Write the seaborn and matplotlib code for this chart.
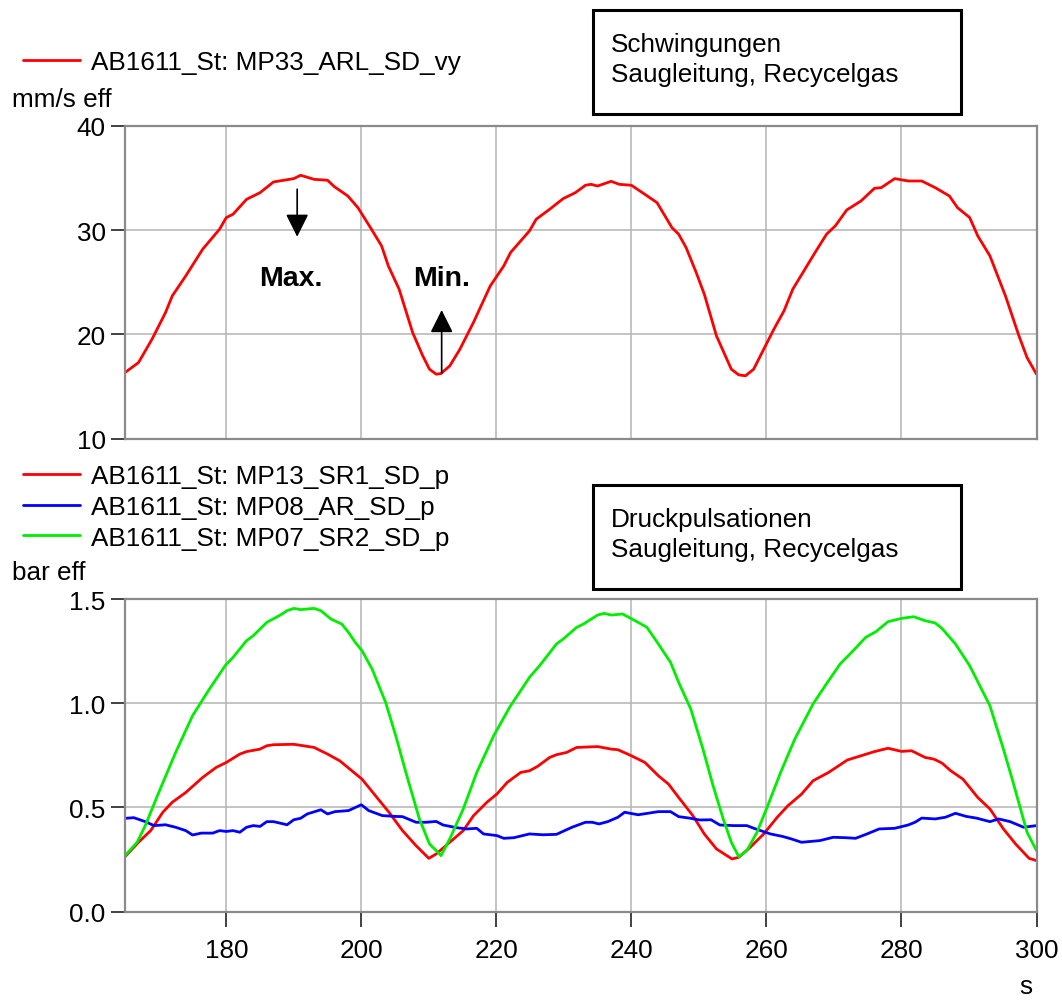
import matplotlib
matplotlib.use("Agg")
import matplotlib.pyplot as plt
import seaborn as sns
from matplotlib.patches import Rectangle

sns.set_theme(style="white")
plt.rcParams['font.family'] = ['Liberation Sans', 'DejaVu Sans']
plt.rcParams['text.color'] = 'black'
plt.rcParams['xtick.color'] = 'black'
plt.rcParams['ytick.color'] = 'black'

# --- Schwingungen (oben) ---
vy_t = [165.0, 167.0, 169.0, 171.0, 172.0, 174.0, 176.5, 179.0, 180.0, 181.0, 183.0, 185.0,
        187.0, 190.0, 191.0, 193.0, 195.0, 196.0, 198.0, 199.5, 201.5, 203.0, 204.0, 205.6,
        207.6, 209.1, 210.1, 211.1, 211.8, 213.1, 214.6, 216.6, 219.1, 221.1, 222.1, 224.9,
        225.9, 227.9, 229.9, 231.7, 233.2, 234.0, 235.0, 237.0, 238.2, 240.0, 242.0, 243.8,
        246.0, 247.0, 248.1, 249.6, 250.8, 252.6, 254.8, 255.9, 256.9, 258.1, 259.6, 261.1,
        262.6, 263.9, 265.7, 267.2, 268.9, 270.2, 271.9, 274.0, 276.0, 277.0, 279.0, 281.0,
        283.0, 285.0, 287.1, 288.3, 290.1, 291.3, 293.1, 295.4, 297.4, 298.6, 300.0]
vy_v = [16.33, 17.29, 19.53, 22.09, 23.69, 25.61, 28.17, 30.09, 31.21, 31.53, 32.96, 33.60,
        34.63, 34.95, 35.27, 34.88, 34.79, 34.18, 33.28, 32.16, 30.09, 28.49, 26.57, 24.33,
        20.17, 17.93, 16.65, 16.17, 16.24, 16.97, 18.57, 21.13, 24.65, 26.57, 27.85, 29.93,
        31.05, 32.01, 33.03, 33.60, 34.31, 34.40, 34.24, 34.69, 34.40, 34.31, 33.44, 32.64,
        30.25, 29.61, 28.33, 25.93, 23.85, 19.85, 16.65, 16.11, 16.02, 16.65, 18.57, 20.49,
        22.25, 24.33, 26.25, 27.85, 29.61, 30.41, 31.94, 32.80, 34.02, 34.08, 34.95, 34.72,
        34.72, 34.08, 33.28, 32.16, 31.21, 29.45, 27.53, 23.69, 19.85, 17.77, 16.17]

# --- Druckpulsationen (unten) ---
sr1_t = [165.0, 167.0, 168.8, 170.6, 172.0, 174.0, 176.5, 178.5, 180.0, 182.0, 183.0, 185.0,
         186.0, 187.0, 190.0, 193.0, 195.0, 196.8, 198.6, 200.1, 202.1, 204.1, 206.1, 208.1,
         210.0, 211.1, 213.1, 215.1, 216.6, 218.6, 220.1, 221.6, 223.6, 224.9, 226.1, 227.9,
         228.9, 230.4, 231.9, 235.0, 237.0, 238.0, 240.0, 242.0, 244.0, 245.5, 247.0, 249.1,
         250.8, 252.6, 254.9, 255.9, 257.6, 259.6, 261.6, 263.2, 265.2, 266.9, 269.2, 272.0,
         274.0, 276.0, 278.0, 280.0, 281.5, 283.5, 284.8, 286.0, 287.3, 289.1, 291.3, 293.1,
         295.1, 296.9, 298.9, 300.0]
sr1_v = [0.264, 0.333, 0.389, 0.477, 0.525, 0.572, 0.644, 0.692, 0.716, 0.756, 0.768, 0.780,
         0.796, 0.801, 0.803, 0.788, 0.756, 0.724, 0.676, 0.636, 0.556, 0.477, 0.389, 0.317,
         0.256, 0.277, 0.333, 0.389, 0.460, 0.525, 0.565, 0.620, 0.668, 0.676, 0.697, 0.740,
         0.753, 0.764, 0.788, 0.792, 0.780, 0.777, 0.748, 0.716, 0.652, 0.612, 0.548, 0.461,
         0.373, 0.301, 0.253, 0.261, 0.309, 0.373, 0.453, 0.509, 0.564, 0.628, 0.668, 0.728,
         0.748, 0.768, 0.784, 0.769, 0.772, 0.740, 0.732, 0.713, 0.676, 0.636, 0.548, 0.493,
         0.397, 0.325, 0.256, 0.245]

ar_t = [165.0, 166.3, 168.0, 169.3, 171.0, 172.5, 174.0, 175.0, 176.3, 178.0, 179.0, 180.0,
        181.0, 182.0, 183.0, 184.0, 185.0, 186.0, 187.0, 189.0, 190.0, 191.0, 192.0, 194.0,
        195.0, 196.1, 198.1, 200.0, 201.1, 203.1, 205.1, 206.1, 208.1, 209.6, 211.1, 212.1,
        214.1, 215.6, 217.1, 218.1, 220.1, 221.1, 222.6, 224.9, 226.9, 228.9, 231.2, 233.2,
        234.2, 235.2, 236.5, 238.0, 239.0, 241.0, 244.0, 245.8, 247.0, 248.6, 250.1, 251.8,
        253.1, 255.1, 257.1, 258.4, 260.6, 262.4, 263.7, 265.2, 266.2, 267.9, 269.9, 271.7,
        273.2, 274.9, 276.7, 279.0, 281.0, 282.0, 283.0, 285.0, 286.5, 288.0, 289.6, 291.1,
        293.1, 294.4, 296.1, 298.1, 300.0]
ar_v = [0.448, 0.451, 0.432, 0.413, 0.417, 0.405, 0.389, 0.368, 0.377, 0.377, 0.389, 0.385,
        0.389, 0.381, 0.405, 0.413, 0.409, 0.432, 0.432, 0.417, 0.441, 0.448, 0.469, 0.489,
        0.469, 0.480, 0.485, 0.513, 0.485, 0.461, 0.457, 0.456, 0.429, 0.429, 0.433, 0.416,
        0.403, 0.397, 0.400, 0.373, 0.365, 0.352, 0.355, 0.373, 0.369, 0.371, 0.405, 0.429,
        0.429, 0.421, 0.432, 0.453, 0.477, 0.465, 0.480, 0.480, 0.456, 0.449, 0.440, 0.441,
        0.416, 0.413, 0.413, 0.397, 0.373, 0.361, 0.349, 0.333, 0.336, 0.341, 0.357, 0.355,
        0.352, 0.373, 0.397, 0.400, 0.416, 0.429, 0.449, 0.445, 0.453, 0.472, 0.457, 0.449,
        0.432, 0.445, 0.432, 0.405, 0.413]

sr2_t = [165.0, 166.8, 168.0, 170.0, 172.5, 175.0, 177.5, 179.9, 181.0, 183.0, 184.0, 186.0,
         188.0, 189.0, 190.0, 191.0, 193.0, 194.0, 195.5, 197.1, 198.1, 199.1, 200.1, 201.6,
         203.6, 205.1, 206.6, 208.6, 210.1, 211.1, 211.8, 213.1, 215.1, 217.1, 219.6, 222.1,
         223.1, 224.9, 226.4, 228.9, 229.9, 231.9, 232.9, 235.0, 236.0, 237.0, 238.7, 241.0,
         242.3, 244.0, 245.8, 247.0, 248.8, 250.6, 252.1, 253.6, 254.8, 255.9, 257.1, 258.6,
         260.2, 262.1, 264.2, 266.9, 268.7, 270.9, 272.7, 274.7, 276.2, 278.0, 280.0, 281.8,
         283.5, 285.0, 286.0, 288.0, 290.1, 292.1, 293.1, 295.1, 296.4, 298.6, 300.0]
sr2_v = [0.269, 0.333, 0.413, 0.572, 0.764, 0.940, 1.068, 1.183, 1.220, 1.300, 1.324, 1.388,
         1.423, 1.444, 1.455, 1.449, 1.455, 1.444, 1.404, 1.380, 1.340, 1.292, 1.252, 1.164,
         1.004, 0.844, 0.668, 0.445, 0.325, 0.293, 0.269, 0.349, 0.493, 0.668, 0.844, 0.988,
         1.036, 1.124, 1.180, 1.284, 1.308, 1.364, 1.380, 1.423, 1.431, 1.423, 1.428, 1.388,
         1.364, 1.284, 1.196, 1.100, 0.972, 0.780, 0.604, 0.445, 0.333, 0.264, 0.293, 0.381,
         0.509, 0.668, 0.828, 0.996, 1.084, 1.188, 1.247, 1.316, 1.343, 1.391, 1.407, 1.415,
         1.396, 1.385, 1.359, 1.284, 1.180, 1.052, 0.988, 0.780, 0.636, 0.381, 0.293]

x_ticks = [180, 200, 220, 240, 260, 280, 300]
top_yticks = [10, 20, 30, 40]
bot_yticks = [0.0, 0.5, 1.0, 1.5]

W, H = 1062, 1003
FS = 18.8


def fx(px):
    return px / W


def fy(py):
    return 1 - py / H


fig = plt.figure(figsize=(W / 100, H / 100), dpi=100)
fig.patch.set_facecolor("white")

left, width = fx(125), (1036.5 - 125) / W
ax1 = fig.add_axes([left, fy(439.5), width, (439.5 - 127) / H])
ax2 = fig.add_axes([left, fy(912.7), width, (912.7 - 600) / H])

sns.lineplot(x=vy_t, y=vy_v, ax=ax1, color="#ff0000", linewidth=2.0,
             label="AB1611_St: MP33_ARL_SD_vy", legend=False)
sns.lineplot(x=sr1_t, y=sr1_v, ax=ax2, color="#ff0000", linewidth=2.0,
             label="AB1611_St: MP13_SR1_SD_p", legend=False)
sns.lineplot(x=ar_t, y=ar_v, ax=ax2, color="#0000ff", linewidth=2.0,
             label="AB1611_St: MP08_AR_SD_p", legend=False)
sns.lineplot(x=sr2_t, y=sr2_v, ax=ax2, color="#00ee00", linewidth=2.0,
             label="AB1611_St: MP07_SR2_SD_p", legend=False)

for ax, yt in ((ax1, top_yticks), (ax2, bot_yticks)):
    ax.set_xlim(165, 300)
    ax.set_ylim(yt[0], yt[-1])
    ax.set_xticks(x_ticks)
    ax.set_yticks(yt)
    ax.grid(True, color="#b4b4b4", linewidth=1.1)
    ax.set_axisbelow(True)
    for sp in ax.spines.values():
        sp.set_color("#8a8a8a")
        sp.set_linewidth(1.6)
        sp.set_visible(True)
    ax.tick_params(axis="y", direction="out", length=10, width=1.3, color="#333333",
                   labelcolor="black", labelsize=FS, pad=4, left=True)
    ax.set_xlabel("")
    ax.set_ylabel("")

ax1.tick_params(axis="x", bottom=False, labelbottom=False)
ax2.tick_params(axis="x", direction="out", length=11, width=1.3, color="#333333",
                labelcolor="black", labelsize=FS, pad=8, bottom=True)
ax2.set_yticklabels([f"{v:.1f}" for v in bot_yticks])

# Max / Min Markierungen
ax1.annotate("", xy=(190.5, 29.1), xytext=(190.5, 34.2),
             arrowprops=dict(arrowstyle="-|>,head_length=1.4,head_width=0.7",
                             mutation_scale=10, color="black", lw=1.2))
ax1.annotate("", xy=(211.9, 22.6), xytext=(211.9, 16.0),
             arrowprops=dict(arrowstyle="-|>,head_length=1.4,head_width=0.7",
                             mutation_scale=10, color="black", lw=1.2))
ax1.text(189.5, 25.4, "Max.", ha="center", va="center", fontsize=20.5, fontweight="bold")
ax1.text(211.9, 25.4, "Min.", ha="center", va="center", fontsize=20.5, fontweight="bold")

# Legenden
ax1.legend(loc="upper left", bbox_to_anchor=(fx(23), fy(51)), bbox_transform=fig.transFigure,
           frameon=False, fontsize=FS, handlelength=2.2, handletextpad=0.4,
           borderpad=0, borderaxespad=0)
ax2.legend(loc="upper left", bbox_to_anchor=(fx(23), fy(465)), bbox_transform=fig.transFigure,
           frameon=False, fontsize=FS, handlelength=2.2, handletextpad=0.4,
           borderpad=0, borderaxespad=0, labelspacing=0.26)

# Einheiten
fig.text(fx(12), fy(107), "mm/s eff", fontsize=FS, va="baseline", ha="left")
fig.text(fx(12), fy(580), "bar eff", fontsize=FS, va="baseline", ha="left")
fig.text(fx(1026), fy(987), "s", fontsize=FS, va="center", ha="center")

# Kästen
for top, l1 in ((11, "Schwingungen"), (486, "Druckpulsationen")):
    fig.patches.append(Rectangle((fx(593), fy(top + 104)), (961 - 593) / W, 104 / H,
                                 transform=fig.transFigure, fill=False,
                                 edgecolor="black", linewidth=2.2))
    fig.text(fx(611), fy(top + 41), l1, fontsize=FS, va="baseline", ha="left")
    fig.text(fx(611), fy(top + 71), "Saugleitung, Recycelgas", fontsize=FS,
             va="baseline", ha="left")

fig.savefig("out.png", dpi=100, facecolor="white")
